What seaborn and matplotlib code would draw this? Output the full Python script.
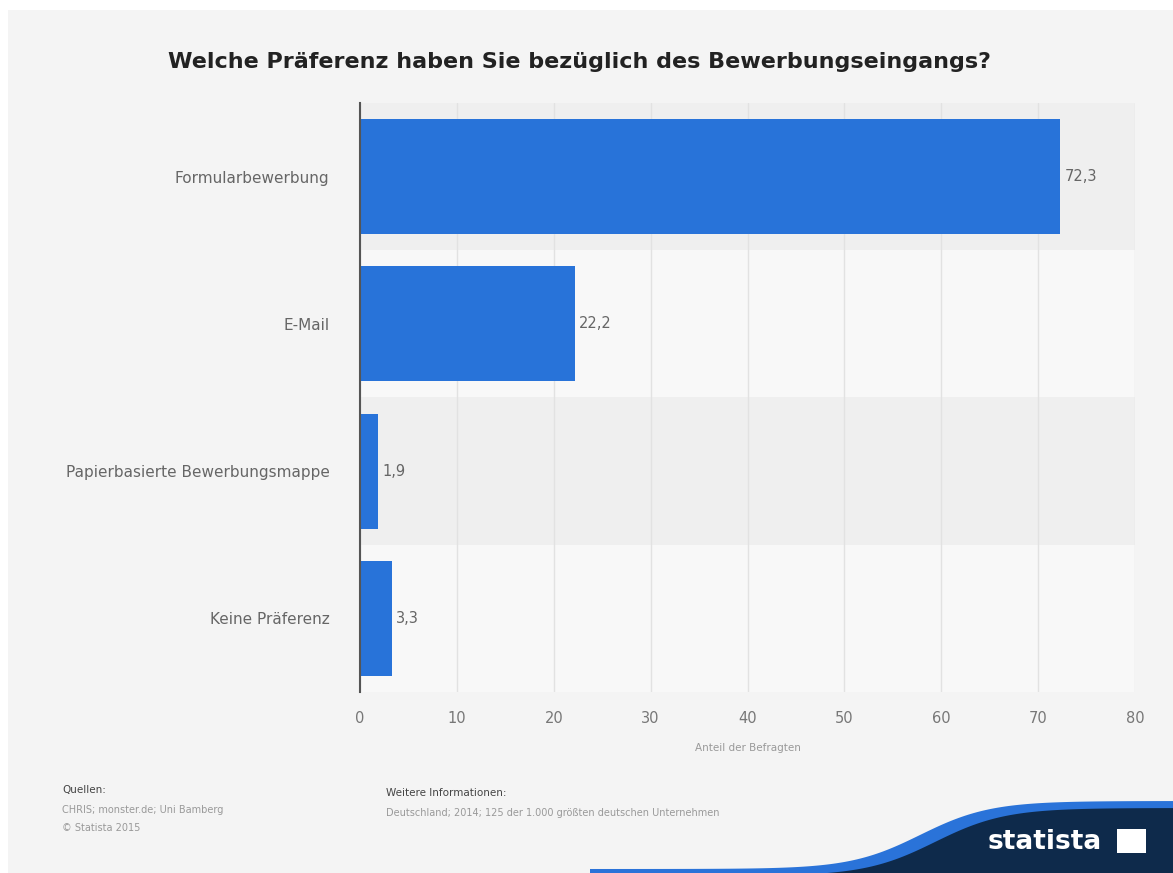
import numpy as np
import matplotlib
matplotlib.use("Agg")
import matplotlib.pyplot as plt
from matplotlib.patches import Polygon, Rectangle
import seaborn as sns
import pandas as pd

categories = ["Formularbewerbung", "E-Mail", "Papierbasierte Bewerbungsmappe", "Keine Präferenz"]
values = [72.3, 22.2, 1.9, 3.3]
xticks = [0, 10, 20, 30, 40, 50, 60, 70, 80]

title = "Welche Präferenz haben Sie bezüglich des Bewerbungseingangs?"
xlabel = "Anteil der Befragten"

sns.set_theme(style="white")
plt.rcParams['font.family'] = ['DejaVu Sans']

W, H = 1173, 873
fig = plt.figure(figsize=(W / 100, H / 100), dpi=100)
fig.patch.set_facecolor("white")

# grey background panel
fig.patches.append(Rectangle((8 / W, 0), 1 - 8 / W, 1 - 10 / H, transform=fig.transFigure,
                             facecolor="#f4f4f4", edgecolor="none", zorder=-10))

ax = fig.add_axes([360 / W, 181 / H, 775 / W, 589 / H])
ax.set_facecolor("none")

df = pd.DataFrame({"cat": categories, "val": values})

# alternating row bands
for i in range(len(categories)):
    ax.axhspan(i - 0.5, i + 0.5, color="#efefef" if i % 2 == 0 else "#f8f8f8", zorder=0, lw=0)

sns.barplot(data=df, x="val", y="cat", orient="h", color="#2873d9", width=0.78,
            saturation=1, ax=ax, zorder=3, edgecolor="none", linewidth=0)

ax.set_xlim(0, 80)
ax.set_ylim(3.5, -0.5)
ax.set_xticks(xticks)
ax.set_xticklabels([str(t) for t in xticks], color="#777777", fontsize=10.5)
ax.grid(axis="x", color="#e2e2e2", lw=1, zorder=1)
ax.set_axisbelow(True)
for s in ["top", "right", "bottom"]:
    ax.spines[s].set_visible(False)
ax.spines["left"].set_color("#555555")
ax.spines["left"].set_linewidth(1.5)
ax.spines["left"].set_zorder(5)
ax.tick_params(axis="x", length=0, pad=14)
ax.tick_params(axis="y", length=0, pad=22)
ax.set_yticks(range(len(categories)))
ax.set_yticklabels(categories, color="#666666", fontsize=11)
ax.set_ylabel("")
ax.set_xlabel(xlabel, color="#999999", fontsize=7.5, labelpad=12)

for c in ax.containers:
    ax.bar_label(c, labels=[f"{v:.1f}".replace(".", ",") for v in c.datavalues],
                 padding=3, color="#666666", fontsize=10.5)

fig.text(579 / W, 1 - 62 / H, title, ha="center", va="center", fontsize=16,
         fontweight="bold", color="#222222")

# footer
fig.text(62 / W, 1 - 790 / H, "Quellen:", fontsize=7.5, color="#444444", va="center")
fig.text(62 / W, 1 - 810 / H, "CHRIS; monster.de; Uni Bamberg", fontsize=7, color="#999999", va="center")
fig.text(62 / W, 1 - 828 / H, "© Statista 2015", fontsize=7, color="#999999", va="center")
fig.text(386 / W, 1 - 793 / H, "Weitere Informationen:", fontsize=7.5, color="#444444", va="center")
fig.text(386 / W, 1 - 813 / H, "Deutschland; 2014; 125 der 1.000 größten deutschen Unternehmen",
         fontsize=7, color="#999999", va="center")

# statista wave logo
xs = np.linspace(590, 1173, 200)
ys = 873 - (873 - 805) * (0.5 + 0.5 * np.tanh((xs - 920) / 70))
top_blue = [(x / W, 1 - (y - 4) / H) for x, y in zip(xs, ys)]
pts_blue = top_blue + [(1, 0), (590 / W, 0)]
fig.patches.append(Polygon(pts_blue, closed=True, transform=fig.transFigure,
                           facecolor="#2a73d9", edgecolor="none", zorder=-5))
pts = [(x / W, 1 - (y + 3) / H) for x, y in zip(xs + 15, ys)] + [(1, 0), (605 / W, 0)]
fig.patches.append(Polygon(pts, closed=True, transform=fig.transFigure,
                           facecolor="#0e2a4b", edgecolor="none", zorder=-4))
fig.text(1045 / W, 1 - 842 / H, "statista", fontsize=19, fontweight="bold", color="white",
         ha="center", va="center")
fig.patches.append(Rectangle((1117 / W, 1 - 853 / H), 29 / W, 24 / H, transform=fig.transFigure,
                             facecolor="white", edgecolor="none", zorder=2))

fig.savefig("out.png", dpi=100, facecolor=fig.get_facecolor())
